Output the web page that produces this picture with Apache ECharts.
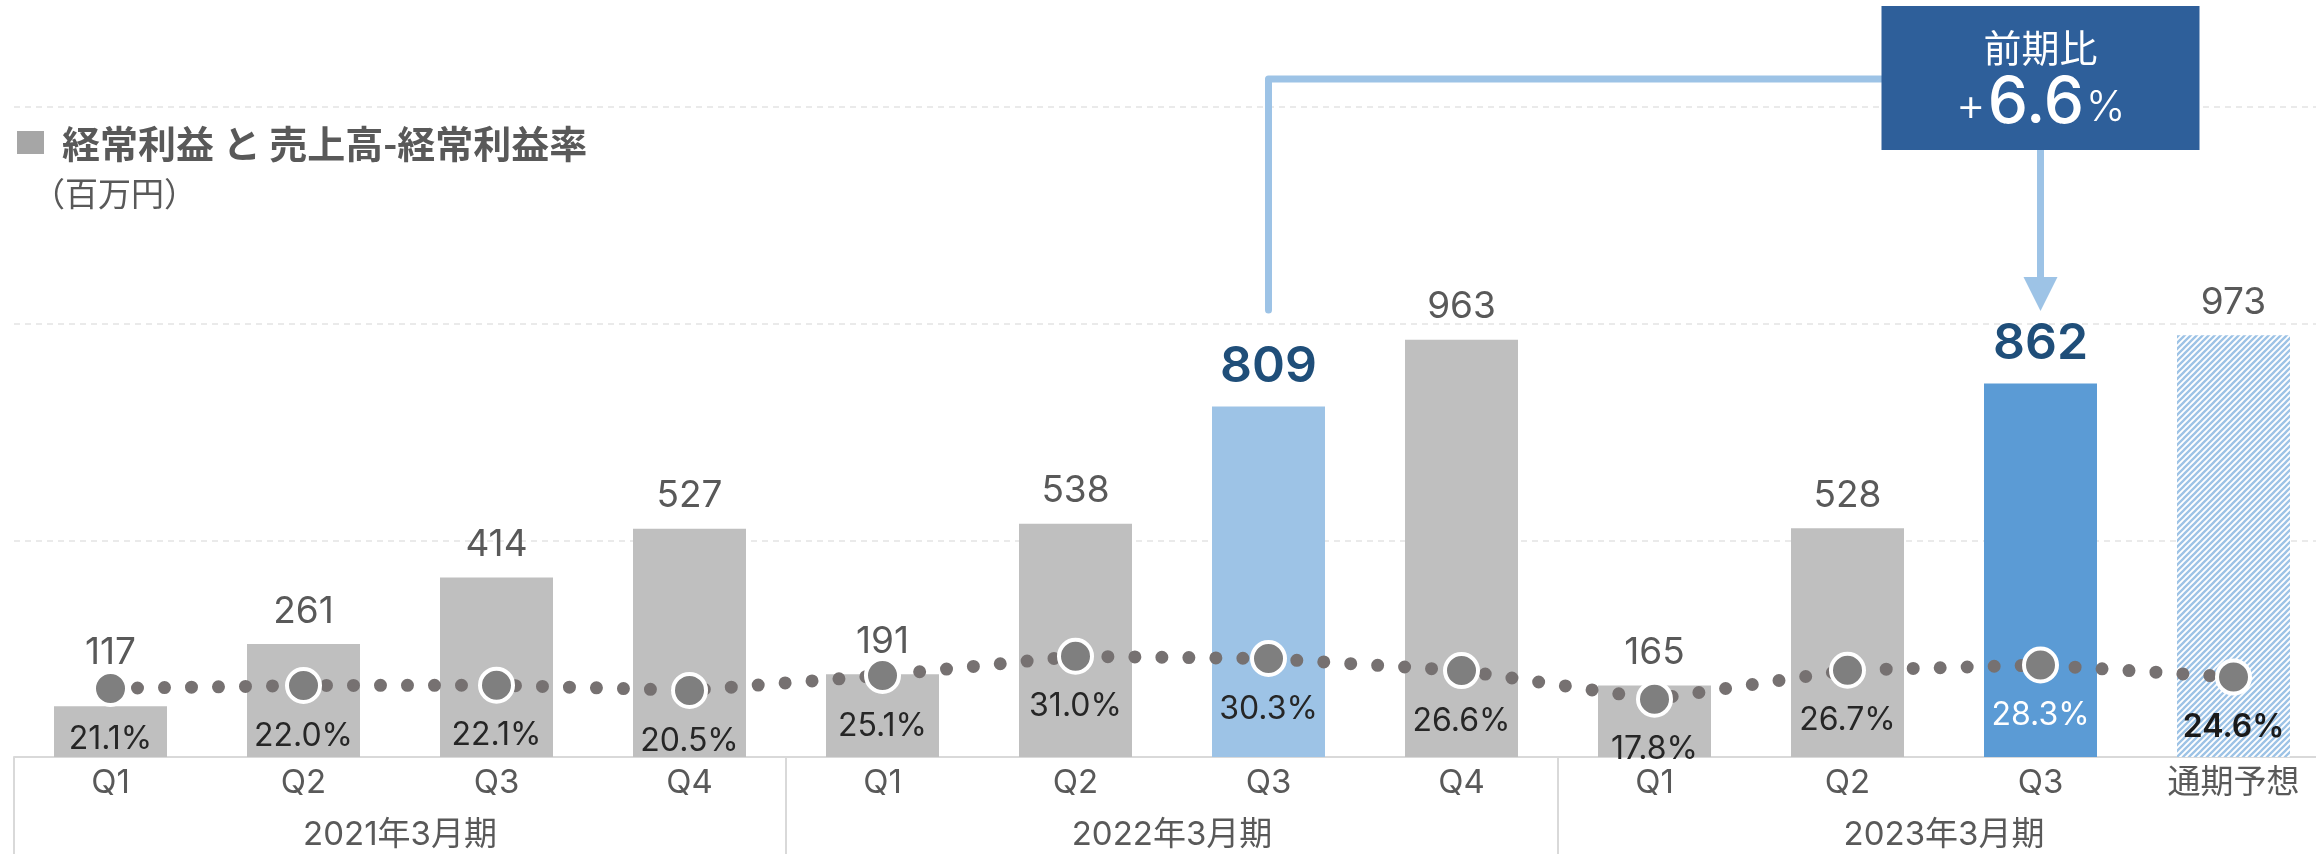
<!DOCTYPE html>
<html>
<head>
<meta charset="utf-8">
<script src="https://cdn.jsdelivr.net/npm/echarts@6/dist/echarts.min.js"></script>
<style>
html,body{margin:0;padding:0;background:#fff;}
#chart{width:2316px;height:854px;}
</style>
</head>
<body>
<div id="chart"></div>
<script>
// ---- data ----
const categories = ['Q1','Q2','Q3','Q4','Q1','Q2','Q3','Q4','Q1','Q2','Q3','通期予想'];
const fiscalYears = ['2021年3月期','2022年3月期','2023年3月期'];
const ordinaryProfit = [117,261,414,527,191,538,809,963,165,528,862,973];
const profitMargin = [21.1,22.0,22.1,20.5,25.1,31.0,30.3,26.6,17.8,26.7,28.3,24.6];
const profitAxis = [0, 1500, 500];   // min, max, interval (百万円)
const marginAxis = [0, 200];         // min, max (%)
const titleText = '経常利益 と 売上高-経常利益率';
const unitText = '（百万円）';
const yoyTitle = '前期比';
const yoyValue = ['+', '6.6', '%'];
const compareFrom = 6, compareTo = 10, forecastIdx = 11;

// ---- styles ----
const NUM_FONT = 'Inter, "Noto Sans CJK JP", sans-serif';
const GRAY_BAR = '#bfbfbf', LIGHT_BLUE = '#9dc3e6', BLUE = '#5b9bd5';

function hatch() {
  const s = 6, c = document.createElement('canvas');
  c.width = s; c.height = s;
  const g = c.getContext('2d');
  g.fillStyle = '#ffffff'; g.fillRect(0, 0, s, s);
  g.strokeStyle = LIGHT_BLUE; g.lineWidth = 2.3;
  g.beginPath();
  g.moveTo(-1, 1); g.lineTo(1, -1);
  g.moveTo(0, s); g.lineTo(s, 0);
  g.moveTo(s - 1, s + 1); g.lineTo(s + 1, s - 1);
  g.stroke();
  return c;
}
const hatchImg = hatch();

function barColor(i) {
  if (i === compareFrom) return LIGHT_BLUE;
  if (i === compareTo) return BLUE;
  if (i === forecastIdx) return {image: hatchImg, repeat: 'repeat'};
  return GRAY_BAR;
}
function barLabel(i) {
  if (i === compareFrom || i === compareTo) {
    return {fontSize: 50, fontWeight: 600, color: '#1f4e79', distance: 14};
  }
  if (i === 0) return {distance: 35};
  return {};
}
const barData = ordinaryProfit.map((v, i) => ({
  value: v,
  itemStyle: {color: barColor(i)},
  label: barLabel(i)
}));
const lineData = profitMargin.map((v, i) => {
  const d = {value: v};
  if (i === compareTo) d.label = {color: '#ffffff'};
  if (i === forecastIdx) d.label = {color: '#1a1a1a', fontWeight: 600};
  return d;
});

const chart = echarts.init(document.getElementById('chart'), null, {renderer: 'canvas'});
chart.setOption({
  animation: false,
  backgroundColor: '#ffffff',
  grid: {left: 14, top: 107, width: 2316, height: 650, containLabel: false, outerBoundsMode: 'none'},
  xAxis: [{
    type: 'category',
    data: categories,
    position: 'bottom',
    axisLine: {show: true, lineStyle: {color: '#d9d9d9', width: 2}},
    axisTick: {show: false},
    axisLabel: {interval: 0, margin: 10, fontSize: 33, color: '#595959', fontFamily: NUM_FONT}
  }, {
    type: 'category',
    data: fiscalYears,
    position: 'bottom',
    axisLine: {show: false},
    axisTick: {show: true, interval: 0, length: 100, lineStyle: {color: '#d9d9d9', width: 2}},
    axisLabel: {interval: 0, margin: 62, fontSize: 33, color: '#595959', fontFamily: NUM_FONT}
  }],
  yAxis: [{
    type: 'value',
    min: profitAxis[0], max: profitAxis[1], interval: profitAxis[2],
    axisLine: {show: false}, axisTick: {show: false}, axisLabel: {show: false},
    splitLine: {show: true, lineStyle: {color: '#e3e3e3', width: 1.5, type: [6, 5]}}
  }, {
    type: 'value',
    min: marginAxis[0], max: marginAxis[1],
    axisLine: {show: false}, axisTick: {show: false}, axisLabel: {show: false},
    splitLine: {show: false}
  }],
  series: [{
    type: 'bar',
    xAxisIndex: 0, yAxisIndex: 0,
    barWidth: 113,
    data: barData,
    z: 2,
    label: {
      show: true, position: 'top', distance: 14,
      fontSize: 37, color: '#595959', fontFamily: NUM_FONT
    }
  }, {
    type: 'line',
    xAxisIndex: 0, yAxisIndex: 1,
    data: lineData,
    z: 3,
    symbol: 'circle', symbolSize: 33,
    itemStyle: {color: '#7f7f7f', borderColor: '#ffffff', borderWidth: 4},
    lineStyle: {color: '#767171', width: 13, type: [0, 27], cap: 'round'},
    label: {
      show: true, position: 'bottom', distance: 16,
      fontSize: 32, color: '#262626', fontFamily: NUM_FONT,
      formatter: p => p.value.toFixed(1) + '%'
    }
  }]
});

// ---- annotations (positioned from the axes) ----
const xFrom = chart.convertToPixel({seriesIndex: 0}, [compareFrom, ordinaryProfit[compareFrom]])[0];
const xTo = chart.convertToPixel({seriesIndex: 0}, [compareTo, ordinaryProfit[compareTo]])[0];
const boxW = 318, boxTop = 6, boxH = 144;
const boxLeft = xTo - boxW / 2;
const connY = 79;
const lineCol = LIGHT_BLUE;
chart.setOption({
  graphic: [
    {type: 'rect', shape: {x: 17, y: 131, width: 27, height: 23}, style: {fill: '#a6a6a6'}},
    {type: 'text', x: 62, y: 144, style: {text: titleText, font: 'bold 38px "Noto Sans CJK JP", sans-serif', fill: '#595959', verticalAlign: 'middle'}},
    {type: 'text', x: 32, y: 193, style: {text: unitText, font: '33px "Noto Sans CJK JP", sans-serif', fill: '#595959', verticalAlign: 'middle'}},
    {type: 'polyline', shape: {points: [[xFrom, 310], [xFrom, connY], [boxLeft, connY]]},
      style: {stroke: lineCol, lineWidth: 7, lineCap: 'round', lineJoin: 'round', fill: null}, z: 10},
    {type: 'line', shape: {x1: xTo, y1: boxTop + boxH, x2: xTo, y2: 282},
      style: {stroke: lineCol, lineWidth: 7}, z: 10},
    {type: 'polygon', shape: {points: [[xTo - 17, 277], [xTo + 17, 277], [xTo, 311]]},
      style: {fill: lineCol}, z: 10},
    {type: 'rect', shape: {x: boxLeft, y: boxTop, width: boxW, height: boxH}, style: {fill: '#2e5f9a'}, z: 11},
    {type: 'text', x: xTo, y: 48, z: 12, style: {text: yoyTitle, font: '38px "Noto Sans CJK JP", sans-serif', fill: '#ffffff', align: 'center', verticalAlign: 'middle'}},
    {type: 'text', x: xTo, y: 104, z: 12, style: {
      text: '{a|' + yoyValue[0] + '}{b|' + yoyValue[1] + '}{c|' + yoyValue[2] + '}',
      align: 'center', verticalAlign: 'middle', fill: '#ffffff',
      rich: {
        a: {fontSize: 46, fontFamily: NUM_FONT, fontWeight: 300, fill: '#ffffff', padding: [6, 2, 0, 0]},
        b: {fontSize: 64, fontFamily: NUM_FONT, fill: '#ffffff', fontWeight: 500},
        c: {fontSize: 42, fontFamily: NUM_FONT, fontWeight: 300, fill: '#ffffff', padding: [8, 0, 0, 2]}
      }
    }}
  ]
});
</script>
</body>
</html>
